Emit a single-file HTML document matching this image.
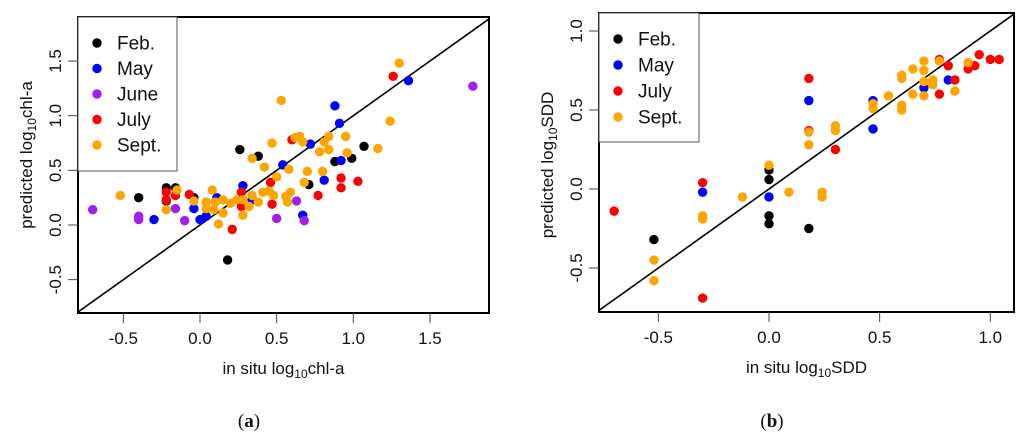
<!DOCTYPE html>
<html><head><meta charset="utf-8">
<style>
html,body{margin:0;padding:0;background:#fff;width:1024px;height:443px;overflow:hidden;}
svg{display:block;font-family:"Liberation Sans",Arial,sans-serif;overflow:hidden;}
</style></head>
<body>
<svg id="chart" width="1024" height="443" viewBox="0 0 1024 443" xmlns="http://www.w3.org/2000/svg"></svg>
<script>
// ---------- data: panel (a) chl-a ----------
const monthsA = ["Feb.","May","June","July","Sept."];
const colorsA = ["#000000","#0000ff","#a020f0","#ff0000","#ffa500"];
const febA_x = [-0.40,-0.22,-0.16,-0.04,-0.22,0.26,0.38,0.18,0.71,0.88,0.99,1.07];
const febA_y = [0.25,0.34,0.34,0.25,0.22,0.69,0.63,-0.32,0.37,0.58,0.61,0.72];
const mayA_x = [-0.30,-0.04,0.00,0.04,0.11,0.28,0.34,0.54,0.72,0.81,0.88,0.91,0.92,0.67,1.36];
const mayA_y = [0.05,0.15,0.05,0.08,0.25,0.36,0.23,0.55,0.74,0.41,1.09,0.93,0.59,0.09,1.32];
const junA_x = [-0.70,-0.40,-0.40,-0.16,-0.10,0.50,0.63,0.68,1.78];
const junA_y = [0.14,0.08,0.05,0.15,0.04,0.06,0.22,0.04,1.27];
const julA_x = [-0.22,-0.22,-0.16,-0.07,0.21,0.27,0.27,0.46,0.47,0.60,0.77,0.92,0.92,1.03,1.26];
const julA_y = [0.30,0.23,0.27,0.28,-0.04,0.30,0.17,0.39,0.19,0.78,0.27,0.43,0.34,0.40,1.36];
const sepA_x = [-0.52,-0.22,-0.15,-0.04,0.04,0.08,0.04,0.09,0.12,0.15,0.10,0.15,0.20,0.24,0.28,0.28,0.32,0.34,0.38,0.41,0.45,0.48,0.34,0.42,0.47,0.50,0.53,0.56,0.58,0.59,0.62,0.65,0.67,0.68,0.70,0.78,0.80,0.81,0.84,0.84,0.95,0.96,1.16,1.24,1.30,0.57];
const sepA_y = [0.27,0.14,0.32,0.22,0.21,0.32,0.15,0.14,0.01,0.11,0.21,0.23,0.20,0.23,0.09,0.23,0.17,0.27,0.21,0.30,0.31,0.27,0.61,0.53,0.75,0.44,1.14,0.26,0.51,0.30,0.80,0.81,0.76,0.39,0.49,0.67,0.49,0.76,0.81,0.69,0.81,0.66,0.70,0.95,1.48,0.21];
const ticksA_x = [-0.5,0.0,0.5,1.0,1.5];
const ticksA_y = [-0.5,0.0,0.5,1.0,1.5];
const tickLabelsA = ["-0.5","0.0","0.5","1.0","1.5"];

// ---------- data: panel (b) SDD ----------
const monthsB = ["Feb.","May","July","Sept."];
const colorsB = ["#000000","#0000ff","#ff0000","#ffa500"];
const febB_x = [-0.52,0,0,0,0,0.18];
const febB_y = [-0.32,0.12,0.06,-0.17,-0.22,-0.25];
const mayB_x = [-0.30,0,0.18,0.47,0.47,0.70,0.81];
const mayB_y = [-0.02,-0.05,0.56,0.56,0.38,0.64,0.69];
const julB_x = [-0.70,-0.30,-0.30,0.18,0.18,0.30,0.77,0.81,0.77,0.84,0.90,0.93,0.95,1.00,1.04];
const julB_y = [-0.14,0.04,-0.69,0.70,0.37,0.25,0.82,0.78,0.60,0.69,0.76,0.78,0.85,0.82,0.82];
const sepB_x = [-0.52,-0.52,-0.30,-0.30,-0.12,0,0.09,0.18,0.18,0.24,0.24,0.30,0.30,0.47,0.47,0.54,0.60,0.60,0.60,0.60,0.65,0.65,0.70,0.70,0.70,0.70,0.74,0.74,0.77,0.84,0.90];
const sepB_y = [-0.45,-0.58,-0.17,-0.19,-0.05,0.15,-0.02,0.36,0.28,-0.02,-0.05,0.40,0.37,0.54,0.51,0.59,0.72,0.70,0.53,0.50,0.76,0.60,0.81,0.75,0.68,0.59,0.69,0.66,0.81,0.62,0.80];
const ticksB_x = [-0.5,0.0,0.5,1.0];
const ticksB_y = [-0.5,0.0,0.5,1.0];
const tickLabelsB_x = ["-0.5","0.0","0.5","1.0"];
const tickLabelsB_y = ["-0.5","0.0","0.5","1.0"];

const NS="http://www.w3.org/2000/svg";
const svg=document.getElementById('chart');
function mk(tag,attrs,parent){const e=document.createElementNS(NS,tag);for(const k in attrs)e.setAttribute(k,attrs[k]);(parent||svg).appendChild(e);return e;}

function panel(cfg){
  const g=mk('g',{});
  
  
  const X=v=>cfg.x0+v*cfg.xs, Y=v=>cfg.y0-v*cfg.ys;
  const cid='clip'+cfg.name;
  const cp=mk('clipPath',{id:cid},g);
  mk('rect',{x:cfg.L,y:cfg.T,width:cfg.R-cfg.L,height:cfg.B-cfg.T},cp);
  // 1:1 line limited to plot region
  const xmin=(cfg.L-cfg.x0)/cfg.xs, xmax=(cfg.R-cfg.x0)/cfg.xs;
  const ymin=(cfg.y0-cfg.B)/cfg.ys, ymax=(cfg.y0-cfg.T)/cfg.ys;
  const lo=Math.max(xmin,ymin), hi=Math.min(xmax,ymax);
  const ln=mk('line',{x1:X(lo),y1:Y(lo),x2:X(hi),y2:Y(hi),stroke:'#000','stroke-width':1.6},g);
  
  
  cfg.series.forEach((s,i)=>{
    const sg=mk('g',{'clip-path':`url(#${cid})`},g);
    
    
    s[0].forEach((xv,j)=>{
      const c=mk('circle',{cx:X(xv),cy:Y(s[1][j]),r:4.7,fill:cfg.colors[i]},sg);
      
      
    });
  });
  const bx=mk('rect',{x:cfg.L,y:cfg.T,width:cfg.R-cfg.L,height:cfg.B-cfg.T,fill:'none',stroke:'#000','stroke-width':2},g);
  
  
  cfg.tx.forEach((t,i)=>{
    mk('line',{x1:X(t),x2:X(t),y1:cfg.B,y2:cfg.B+10,stroke:'#444','stroke-width':1},g);
    const tl=mk('text',{x:X(t),y:cfg.B+31,'text-anchor':'middle','font-size':17,fill:'#111'},g);
    tl.textContent=cfg.txl[i];
    
    
  });
  cfg.ty.forEach((t,i)=>{
    mk('line',{x1:cfg.L-10,x2:cfg.L,y1:Y(t),y2:Y(t),stroke:'#444','stroke-width':1},g);
    const tl=mk('text',{x:0,y:0,'text-anchor':'middle','font-size':17,fill:'#111',transform:`translate(${cfg.L-17},${Y(t)}) rotate(-90)`},g);
    tl.textContent=cfg.tyl[i];
    
    
  });
  const xt=mk('text',{x:(cfg.L+cfg.R)/2,y:cfg.B+61,'text-anchor':'middle','font-size':17,fill:'#111'},g);
  xt.innerHTML=`in situ log<tspan font-size="12" dy="4">10</tspan><tspan dy="-4">${cfg.unit}</tspan>`;
  
  
  const yt=mk('text',{x:0,y:0,'text-anchor':'middle','font-size':17,fill:'#111',transform:`translate(${cfg.L-46},${cfg.ytc}) rotate(-90)`},g);
  yt.innerHTML=`predicted log<tspan font-size="12" dy="4">10</tspan><tspan dy="-4">${cfg.unit}</tspan>`;
  
  
  const lg=mk('g',{},g);
  
  
  mk('rect',{x:cfg.L,y:cfg.T,width:cfg.legW,height:cfg.legH,fill:'#fff',stroke:'#555','stroke-width':1},lg);
  cfg.months.forEach((m,i)=>{
    const yy=cfg.T+cfg.legTop+i*cfg.legStep;
    const e=mk('g',{},lg);
    
    
    mk('circle',{cx:cfg.L+19,cy:yy,r:4.7,fill:cfg.colors[i]},e);
    const t=mk('text',{x:cfg.L+39,y:yy+6.5,'font-size':19,fill:'#111'},e);
    t.textContent=m;
  });
  const cap=mk('text',{x:cfg.capX,y:427,'text-anchor':'middle','font-size':19,'font-family':'"Liberation Serif",serif',fill:'#111'},g);
  cap.innerHTML=`(<tspan font-weight="bold">${cfg.cap}</tspan>)`;
  
  
}

panel({name:'panel-a-chla',L:78,R:489,T:17,B:313,x0:200,xs:153.3,y0:225,ys:109.3,
  tx:ticksA_x,txl:tickLabelsA,ty:ticksA_y,tyl:tickLabelsA,unit:'chl-a',ytc:155,
  months:monthsA,colors:colorsA,
  series:[[febA_x,febA_y],[mayA_x,mayA_y],[junA_x,junA_y],[julA_x,julA_y],[sepA_x,sepA_y]],
  legW:99,legH:154,legTop:26,legStep:25.5,cap:'a',capX:249});

panel({name:'panel-b-sdd',L:599,R:1014,T:13,B:312,x0:769,xs:221.3,y0:189,ys:158,
  tx:ticksB_x,txl:tickLabelsB_x,ty:ticksB_y,tyl:tickLabelsB_y,unit:'SDD',ytc:165,
  months:monthsB,colors:colorsB,
  series:[[febB_x,febB_y],[mayB_x,mayB_y],[julB_x,julB_y],[sepB_x,sepB_y]],
  legW:100,legH:129,legTop:26,legStep:26,cap:'b',capX:772});
</script>
</body></html>
